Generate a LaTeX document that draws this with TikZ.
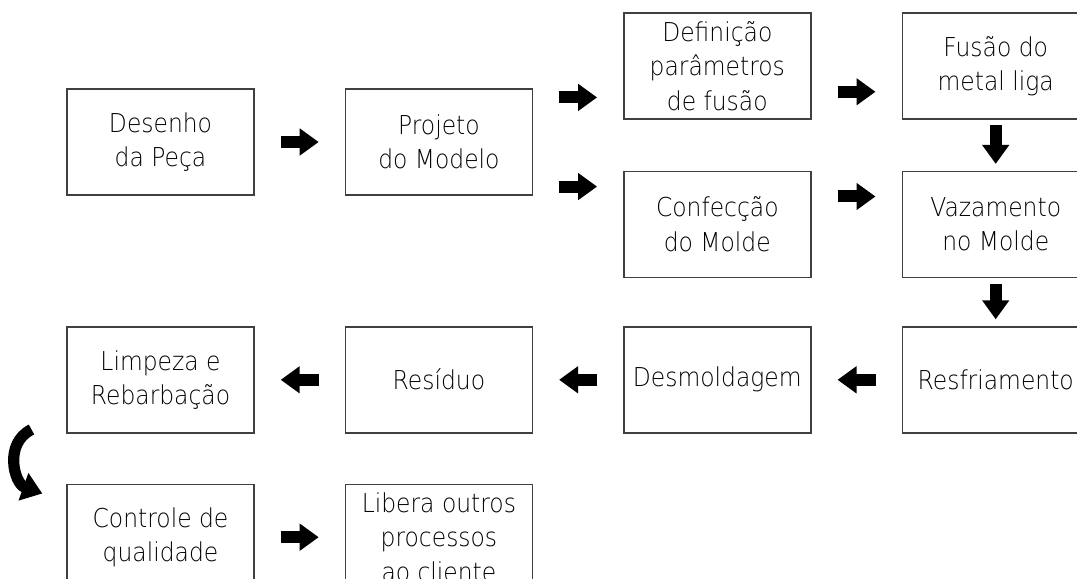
\documentclass[tikz,border=0pt]{standalone}
\usepackage{fontspec}
\setmainfont[FakeStretch=0.9]{DejaVu Sans ExtraLight}
\usetikzlibrary{calc}
\usetikzlibrary{arrows.meta,positioning}

\begin{document}
\begin{tikzpicture}[>={Triangle[length=0.475cm,width=0.65cm]}]
        \tikzset{block/.style= {draw=black!75, line width=0.035cm, rectangle, align=center, inner sep=0pt,
                minimum width=4.675cm, minimum height=2.65cm,
                font=\fontsize{18.5pt}{24.5pt}\selectfont},
        arr/.style={->, line width=0.3cm, shorten <=0.65cm, shorten >=0.65cm},
        varr/.style={->, line width=0.3cm, shorten <=0.14cm, shorten >=0.17cm},
        carr/.style={-{Triangle[length=0.5cm,width=0.7cm]}, line width=0.28cm},
        }
        \useasboundingbox (0,0) rectangle (26.925,-14.45);
        \clip (0,0) rectangle (26.925,-14.45);
        \node [block] (desenho) at (4.0125,-3.55) {Desenho\\da Peça};
        \node [block, right=2.25cm of desenho] (projeto) {Projeto\\do Modelo};
        \node [block, right=2.25cm of projeto, yshift=1.9cm] (definicao) {Definição\\parâmetros\\de fusão};
        \node [block, below=1.275cm of definicao] (confeccao) {Confecção\\do Molde};
        \node [block, right=2.25cm of definicao] (fusao) {Fusão do\\metal liga};
        \node [block, right=2.25cm of confeccao] (vazamento) {Vazamento\\no Molde};
        \node [block, below=1.2cm of vazamento] (resfriamento) {Resfriamento};
        \node [block, left=2.25cm of resfriamento] (desmoldagem) {Desmoldagem};
        \node [block, left=2.25cm of desmoldagem] (residuo) {Resíduo};
        \node [block, left=2.25cm of residuo] (limpeza) {Limpeza e\\Rebarbação};
        \node [block, below=1.25cm of limpeza] (controle) {Controle de\\qualidade};
        \node [block, right=2.25cm of controle] (libera) {Libera outros\\processos\\ao cliente};
        \coordinate (p1) at ($(projeto.north east)!0.085!(projeto.south east)$);
        \coordinate (p2) at ($(projeto.north east)!0.915!(projeto.south east)$);
        \coordinate (d1) at ($(definicao.north east)!0.74!(definicao.south east)$);
        \coordinate (c1) at ($(confeccao.north east)!0.24!(confeccao.south east)$);
%%% paths
        \draw[arr] (desenho) -- (projeto);
        \draw[arr] (p1) -- (p1 -| definicao.west);
        \draw[arr] (p2) -- (p2 -| confeccao.west);
        \draw[arr] (d1) -- (d1 -| fusao.west);
        \draw[arr] (c1) -- (c1 -| vazamento.west);
        \draw[varr] (fusao) -- (vazamento);
        \draw[varr] (vazamento) -- (resfriamento);
        \draw[arr] (resfriamento) -- (desmoldagem);
        \draw[arr] (desmoldagem) -- (residuo);
        \draw[arr] (residuo) -- (limpeza);
        \draw[carr] ([xshift=-0.87cm,yshift=0.1cm]limpeza.south west)
                .. controls +(-0.7,-0.35) and +(-0.7,0.25) .. ([xshift=-0.6cm,yshift=-0.25cm]controle.north west);
        \draw[arr] (controle) -- (libera);
    \end{tikzpicture}
\end{document}
